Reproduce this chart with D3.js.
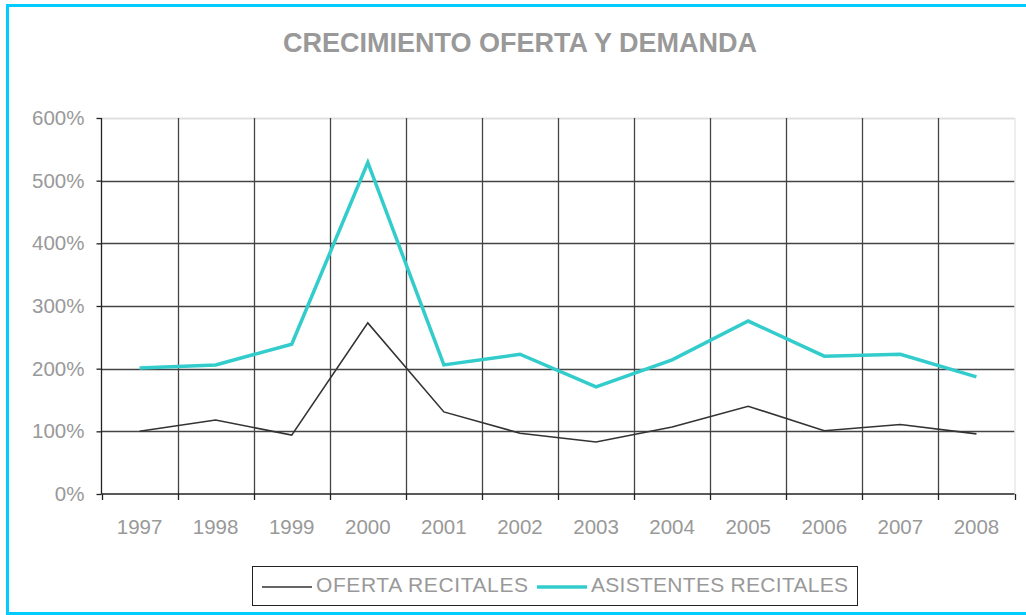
<!DOCTYPE html>
<html>
<head>
<meta charset="utf-8">
<script src="https://cdn.jsdelivr.net/npm/d3@7"></script>
<style>
  body { margin: 0; background: #fff; }
  svg { display: block; font-family: "Liberation Sans", Arial, sans-serif; }
</style>
</head>
<body>
<svg id="chart" width="1026" height="615"></svg>
<script>
// data
const years = ["1997", "1998", "1999", "2000", "2001", "2002", "2003", "2004", "2005", "2006", "2007", "2008"];
const oferta = [100, 118, 94, 273, 131, 97, 83, 107, 140, 101, 111, 96];
const asistentes = [201, 206, 239, 529, 206, 223, 171, 214, 276, 220, 223, 187];
const yTicks = [0, 100, 200, 300, 400, 500, 600];

const svg = d3.select("#chart");
const grey = "#999";

// cyan frame round the whole picture
svg.append("rect")
  .attr("x", 7.5).attr("y", 5.5)
  .attr("width", 1030).attr("height", 608)
  .attr("fill", "none")
  .attr("stroke", "#00ccff")
  .attr("stroke-width", 3);

// title
svg.append("text")
  .attr("x", 520).attr("y", 52)
  .attr("text-anchor", "middle")
  .attr("font-size", 27).attr("font-weight", "bold")
  .attr("fill", grey)
  .text("CRECIMIENTO OFERTA Y DEMANDA");

const pLeft = 101.5, pRight = 1014.5, pTop = 118, pBottom = 494;

const x = d3.scaleBand().domain(years).range([pLeft, pRight]);
const y = d3.scaleLinear().domain([0, 600]).range([pBottom, pTop]);

// horizontal grid
svg.append("g")
  .selectAll("line")
  .data(yTicks.slice(1))
  .join("line")
  .attr("x1", pLeft).attr("x2", pRight)
  .attr("y1", d => Math.round(y(d)) + 0.5).attr("y2", d => Math.round(y(d)) + 0.5)
  .attr("stroke", d => d === 600 ? "#e0e0e0" : "#444")
  .attr("stroke-width", d => d === 600 ? 2 : 1.3);

// vertical grid at band edges
svg.append("g")
  .selectAll("line")
  .data(years.slice(1))
  .join("line")
  .attr("x1", d => Math.round(x(d)) + 0.5).attr("x2", d => Math.round(x(d)) + 0.5)
  .attr("y1", pTop).attr("y2", pBottom)
  .attr("stroke", "#444")
  .attr("stroke-width", 1.3);

// right edge of plot area
svg.append("line")
  .attr("x1", pRight + 0.5).attr("x2", pRight + 0.5)
  .attr("y1", pTop).attr("y2", pBottom)
  .attr("stroke", "#ddd");

// y axis
const yAxis = svg.append("g")
  .attr("transform", `translate(${pLeft},0)`)
  .call(d3.axisLeft(y).tickValues(yTicks).tickSize(5).tickPadding(12).tickFormat(d => d + "%"));
yAxis.select(".domain").attr("stroke", "#222").attr("stroke-width", 1.3).attr("d", `M0,${pTop}V${pBottom}`);
yAxis.selectAll(".tick line").attr("stroke", "#222").attr("stroke-width", 1.3);
yAxis.selectAll("text").attr("fill", grey).attr("font-size", 20.5).attr("font-family", "Liberation Sans, Arial, sans-serif");

// x axis, ticks at band edges
const edges = years.map(d => x(d)).concat([pRight]);
const xAxis = svg.append("g").attr("transform", `translate(0,${pBottom})`);
xAxis.append("line")
  .attr("x1", pLeft).attr("x2", pRight)
  .attr("stroke", "#222").attr("stroke-width", 1.3);
xAxis.selectAll(".edge")
  .data(edges)
  .join("line")
  .attr("class", "edge")
  .attr("x1", d => Math.round(d) + 0.5).attr("x2", d => Math.round(d) + 0.5)
  .attr("y1", 0).attr("y2", 6)
  .attr("stroke", "#222").attr("stroke-width", 1.3);
xAxis.selectAll("text")
  .data(years)
  .join("text")
  .attr("x", d => x(d) + x.bandwidth() / 2)
  .attr("y", 40)
  .attr("text-anchor", "middle")
  .attr("font-size", 20.5)
  .attr("fill", grey)
  .text(d => d);

// lines
const line = d3.line()
  .x((d, i) => x(years[i]) + x.bandwidth() / 2)
  .y(d => y(d));

svg.append("path")
  .datum(asistentes)
  .attr("d", line)
  .attr("fill", "none")
  .attr("stroke", "#33cccc")
  .attr("stroke-width", 3.5);

svg.append("path")
  .datum(oferta)
  .attr("d", line)
  .attr("fill", "none")
  .attr("stroke", "#333")
  .attr("stroke-width", 1.6);

// legend
const legend = svg.append("g");
legend.append("rect")
  .attr("x", 252.5).attr("y", 566.5)
  .attr("width", 605).attr("height", 39)
  .attr("fill", "#fff")
  .attr("stroke", "#222");

const items = [
  { name: "OFERTA RECITALES", color: "#333", w: 1.6, x0: 262, len: 212 },
  { name: "ASISTENTES RECITALES", color: "#33cccc", w: 3.5, x0: 537, len: 257 }
];
items.forEach(it => {
  legend.append("line")
    .attr("x1", it.x0).attr("x2", it.x0 + 50)
    .attr("y1", 587).attr("y2", 587)
    .attr("stroke", it.color).attr("stroke-width", it.w);
  legend.append("text")
    .attr("x", it.x0 + 54).attr("y", 592)
    .attr("font-size", 21)
    .attr("textLength", it.len)
    .attr("lengthAdjust", "spacing")
    .attr("fill", grey)
    .text(it.name);
});
</script>
</body>
</html>
